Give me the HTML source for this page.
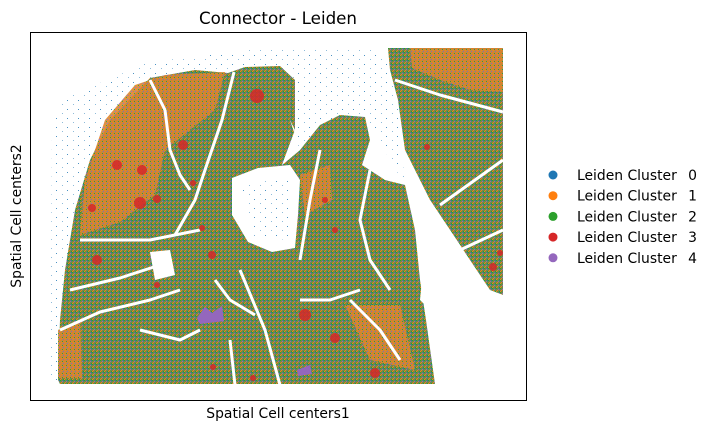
<!DOCTYPE html>
<html><head><meta charset="utf-8">
<style>
html,body{margin:0;padding:0;background:#fff;}
body{width:714px;height:431px;overflow:hidden;font-family:"DejaVu Sans","Liberation Sans",sans-serif;}
</style></head>
<body>
<svg id="chart" width="714" height="431" viewBox="0 0 714 431" xmlns="http://www.w3.org/2000/svg" font-family="DejaVu Sans, Liberation Sans, sans-serif">
<defs>
<pattern id="pg" width="4" height="4" patternUnits="userSpaceOnUse">
<rect width="4" height="4" fill="#6f8a4c"/>
<rect x="0" y="0" width="1" height="1" fill="#2ca02c"/><rect x="2" y="1" width="1" height="1" fill="#9467bd"/>
<rect x="1" y="2" width="1" height="1" fill="#ff7f0e"/><rect x="3" y="3" width="1" height="1" fill="#2ca02c"/>
<rect x="3" y="0" width="1" height="1" fill="#1f77b4"/><rect x="0" y="3" width="1" height="1" fill="#ff7f0e"/>
</pattern>
<pattern id="po" width="4" height="4" patternUnits="userSpaceOnUse">
<rect width="4" height="4" fill="#d0873a"/>
<rect x="0" y="0" width="1" height="1" fill="#ff7f0e"/><rect x="2" y="1" width="1" height="1" fill="#2ca02c"/>
<rect x="1" y="2" width="1" height="1" fill="#ff7f0e"/><rect x="3" y="3" width="1" height="1" fill="#9467bd"/>
<rect x="3" y="1" width="1" height="1" fill="#ff7f0e"/>
</pattern>
<pattern id="pb" width="11" height="9" patternUnits="userSpaceOnUse">
<rect x="1" y="1" width="1" height="1" fill="#1f77b4" opacity="0.8"/><rect x="7" y="5" width="1" height="1" fill="#1f77b4" opacity="0.5"/>
</pattern>
<pattern id="pb2" width="5" height="5" patternUnits="userSpaceOnUse">
<rect x="1" y="1" width="1" height="1" fill="#1f77b4" opacity="0.8"/><rect x="3" y="3" width="1" height="1" fill="#1f77b4" opacity="0.6"/>
</pattern>
<clipPath id="plotclip"><rect x="30" y="33" width="497" height="368"/></clipPath>
</defs>
<g id="plot" clip-path="url(#plotclip)"></g>
<rect x="30.5" y="32.5" width="496" height="368" fill="none" stroke="#000" stroke-width="1"/>
<text x="278" y="24" text-anchor="middle" font-size="16.7" fill="#000">Connector - Leiden</text>
<text x="278" y="418" text-anchor="middle" font-size="13.9" fill="#000">Spatial Cell centers1</text>
<text transform="translate(21,216) rotate(-90)" text-anchor="middle" font-size="13.9" fill="#000">Spatial Cell centers2</text>
<g id="legend"></g>
</svg>
<script>
// Data (coordinates in spatial units)
const categories = ["0","1","2","3","4"];
const colors = ["#1f77b4","#ff7f0e","#2ca02c","#d62728","#9467bd"];
const tissue = [[[58,380],[60,320],[65,270],[75,210],[90,160],[110,120],[150,78],[195,70],[228,73],[245,67],[280,66],[295,80],[295,130],[282,165],[300,150],[320,125],[340,115],[365,117],[370,140],[362,165],[385,180],[405,185],[415,230],[420,280],[426,320],[435,384],[60,384]],
 [[388,48],[503,48],[503,295],[490,290],[460,245],[430,200],[405,150],[398,100],[390,70]]];
const orangeRegions = [[[80,235],[85,180],[105,120],[135,85],[165,75],[225,72],[215,110],[190,130],[165,150],[155,195],[120,222]],
 [[410,48],[503,48],[503,92],[470,90],[440,80],[412,68]],
 [[58,330],[80,320],[82,378],[58,378]],
 [[300,175],[330,165],[332,200],[305,215]],
 [[345,305],[400,305],[415,370],[370,360]]];
const holes = [[[232,178],[258,168],[290,165],[300,180],[298,215],[295,248],[272,252],[248,242],[232,215]],
 [[150,252],[170,250],[175,275],[155,280]],
 [[420,300],[440,320],[435,384],[527,384],[527,295],[503,295],[488,290],[460,245],[430,200]],
 [[290,120],[300,150],[282,165],[295,130]]];
const debris = [[[60,100],[150,62],[250,50],[380,50],[390,70],[398,110],[405,185],[365,117],[300,150],[282,165],[295,80],[245,67],[150,78],[90,160],[65,270],[58,380],[50,380],[52,130]]];
const innerDebris = [[[240,185],[290,178],[292,240],[255,238]]];
const channels = [[[234,72],[222,120],[205,170],[195,200],[175,235]],[[80,240],[150,240],[200,230]],[[70,290],[120,278],[160,265]],
 [[60,330],[100,312],[150,300],[180,290]],[[150,80],[165,110],[170,150],[180,175],[190,190]],[[240,270],[265,330],[280,385]],
 [[215,280],[230,300],[255,315]],[[300,300],[330,300],[360,290]],[[320,150],[310,200],[300,260]],[[370,170],[360,220],[370,260],[390,290]],
 [[350,300],[380,330],[400,360]],[[140,330],[180,340],[200,330]],[[230,340],[235,385]],[[395,80],[440,95],[503,112]],[[440,205],[503,160]],[[460,250],[503,230]]];
const redX = [257,183,117,142,140,157,92,97,157,212,305,335,375,427,493,500,213,253,193,202,325,335];
const redY = [96,145,165,170,203,199,208,260,285,255,315,338,373,147,267,253,367,378,183,228,200,230];
const redR = [7,5,5,5,6,4,4,5,3,4,6,5,5,3,4,3,3,3,3,3,3,3];
const purpleRegions = [[[197,318],[205,307],[212,313],[222,306],[224,321],[200,324]],[[297,370],[310,365],[312,374],[298,376]]];

const xDomain=[0,714], yDomain=[0,431];
function sx(v){return (v-xDomain[0])/(xDomain[1]-xDomain[0])*714;}
function sy(v){return (v-yDomain[0])/(yDomain[1]-yDomain[0])*431;}
const NS="http://www.w3.org/2000/svg";
const plot=document.getElementById('plot');
function poly(pts,fill,name){const p=document.createElementNS(NS,'polygon');
p.setAttribute('points',pts.map(q=>sx(q[0])+','+sy(q[1])).join(' '));p.setAttribute('fill',fill);


plot.appendChild(p);return p;}
debris.forEach(d=>poly(d,'url(#pb)','debris-cluster-0'));
tissue.forEach(t=>poly(t,'url(#pg)','tissue-region'));
orangeRegions.forEach(o=>{const p=poly(o,'url(#po)','orange-cluster-region');p.setAttribute('opacity','0.9');});
holes.forEach(h=>poly(h,'#fff','empty-region'));
innerDebris.forEach(d=>poly(d,'url(#pb)','debris-cluster-0'));
channels.forEach(c=>{const l=document.createElementNS(NS,'polyline');
l.setAttribute('points',c.map(q=>sx(q[0])+','+sy(q[1])).join(' '));
l.setAttribute('fill','none');l.setAttribute('stroke','#fff');l.setAttribute('stroke-width','3');l.setAttribute('stroke-linejoin','round');


plot.appendChild(l);});
purpleRegions.forEach(p=>poly(p,'#9467bd','purple-cluster-4'));
redX.forEach((x,i)=>{const c=document.createElementNS(NS,'circle');
c.setAttribute('cx',sx(x));c.setAttribute('cy',sy(redY[i]));c.setAttribute('r',redR[i]);c.setAttribute('fill','#d62728');c.setAttribute('opacity','0.85');


plot.appendChild(c);});
const lg=document.getElementById('legend');
categories.forEach((c,i)=>{const y=175+i*20.7;
const g=document.createElementNS(NS,'g');


const d=document.createElementNS(NS,'circle');d.setAttribute('cx',553);d.setAttribute('cy',y);d.setAttribute('r',4.5);d.setAttribute('fill',colors[i]);


const t=document.createElementNS(NS,'text');t.setAttribute('x',577);t.setAttribute('y',y+5);t.setAttribute('font-size','13.9');t.textContent='Leiden Cluster';


const n=document.createElementNS(NS,'text');n.setAttribute('x',697);n.setAttribute('y',y+5);n.setAttribute('font-size','13.9');n.setAttribute('text-anchor','end');n.textContent=c;


g.appendChild(d);g.appendChild(t);g.appendChild(n);lg.appendChild(g);});
</script>
</body></html>
